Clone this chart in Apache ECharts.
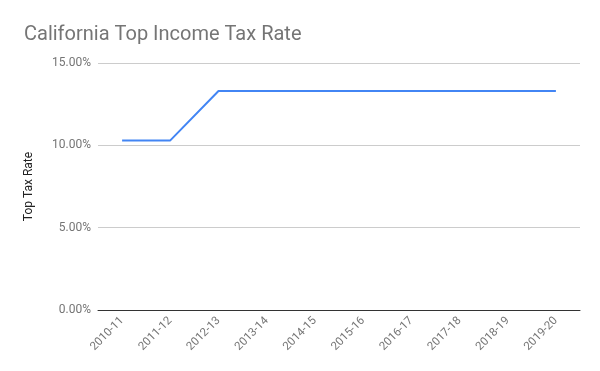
<!DOCTYPE html>
<html><head><meta charset="utf-8">
<script src="https://cdn.jsdelivr.net/npm/echarts@6/dist/echarts.min.js"></script>
<style>html,body{margin:0;padding:0;background:#fff}#c{width:600px;height:371px}</style>
</head><body><div id="c"></div>
<script>
const categories = ["2010-11","2011-12","2012-13","2013-14","2014-15","2015-16","2016-17","2017-18","2018-19","2019-20"];
const topRate = [10.3,10.3,13.3,13.3,13.3,13.3,13.3,13.3,13.3,13.3];
const yTicks = [0,5,10,15];
const chart = echarts.init(document.getElementById('c'), null, {renderer:'canvas'});
chart.setOption({
  animation:false,
  title:{text:'California Top Income Tax Rate',left:19,top:20,textStyle:{fontFamily:'Roboto',fontSize:20,fontWeight:'normal',color:'#757575'}},
  grid:{left:98,right:20,top:63,bottom:61,containLabel:false},
  xAxis:{type:'category',data:categories,boundaryGap:true,
    axisLine:{lineStyle:{color:'#333',width:1}},axisTick:{show:false},
    axisLabel:{rotate:45,fontFamily:'Roboto',fontSize:11.5,color:'#757575',margin:9}},
  yAxis:{type:'value',min:yTicks[0],max:yTicks[yTicks.length-1],interval:5,
    name:'Top Tax Rate',nameLocation:'middle',nameGap:63,nameRotate:90,
    nameTextStyle:{fontFamily:'Roboto',fontSize:12,color:'#222'},
    axisLine:{show:false},axisTick:{show:false},
    axisLabel:{formatter:v=>v.toFixed(2)+'%',fontFamily:'Roboto',fontSize:12,color:'#757575',margin:7},
    splitLine:{lineStyle:{color:'#cccccc'}}},
  series:[{type:'line',data:topRate,symbol:'none',lineStyle:{color:'#4285F4',width:2}}]
});
</script></body></html>
